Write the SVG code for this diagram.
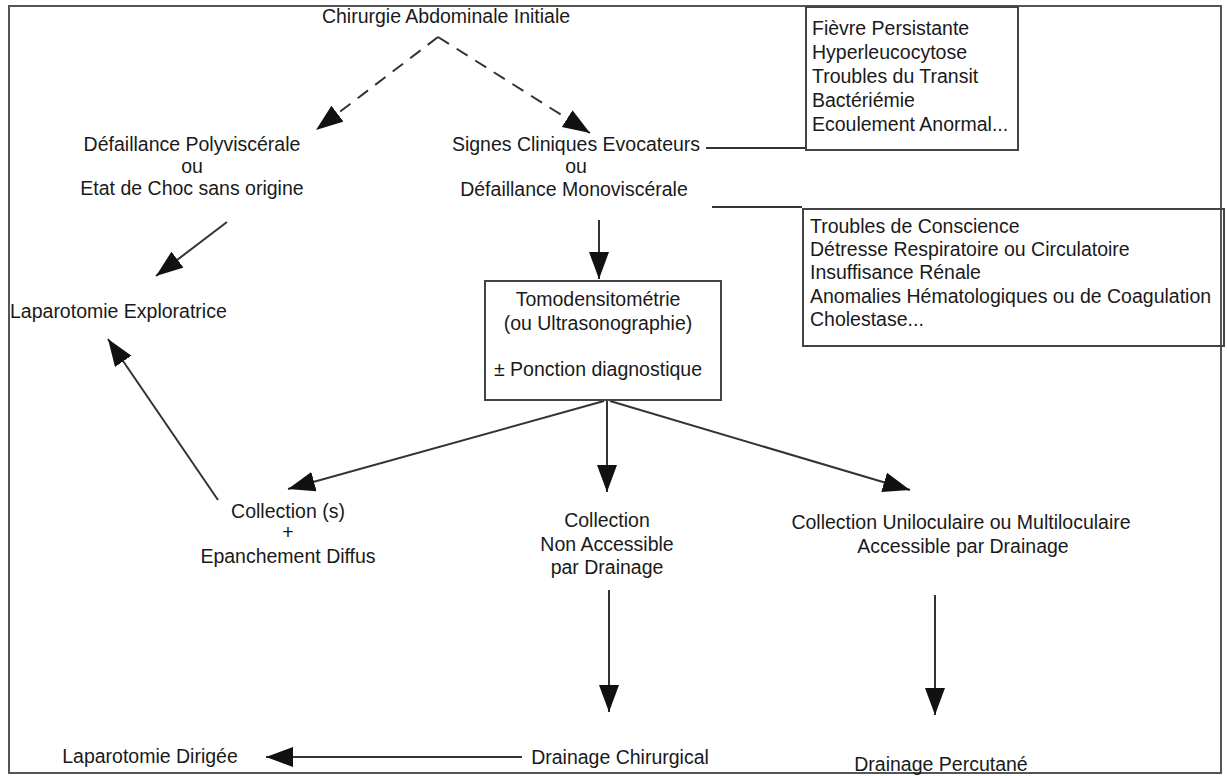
<svg xmlns="http://www.w3.org/2000/svg" width="1227" height="776" viewBox="0 0 1227 776">
<defs>
<style>
text{font-family:"Liberation Sans",Arial,sans-serif;font-size:19.5px;fill:#1a1a1a}
.c{text-anchor:middle}
.box{fill:none;stroke:#444;stroke-width:2}
.ln{fill:none;stroke:#333;stroke-width:2}
.dash{stroke-dasharray:13 9}
</style>
<marker id="ah" markerUnits="userSpaceOnUse" markerWidth="30" markerHeight="22" refX="27" refY="10" orient="auto">
<path d="M0,0 L27,10 L0,20 z" fill="#111"/>
</marker>
</defs>
<rect x="0" y="0" width="1227" height="776" fill="#fff"/>
<rect id="frame" x="9" y="6" width="1212" height="767" fill="none" stroke="#555" stroke-width="2"/>

<g id="connectors">
<path class="ln dash" d="M438,37 L316,130" marker-end="url(#ah)"/>
<path class="ln dash" d="M438,37 L590,133" marker-end="url(#ah)"/>
<path class="ln" d="M706,148 L806,148"/>
<path class="ln" d="M712,207 L802,207"/>
<path class="ln" d="M227,222 L156,276" marker-end="url(#ah)"/>
<path class="ln" d="M599,220 L599,279" marker-end="url(#ah)"/>
<path class="ln" d="M604,401 L288,489" marker-end="url(#ah)"/>
<path class="ln" d="M607,401 L607,492" marker-end="url(#ah)"/>
<path class="ln" d="M610,401 L910,490" marker-end="url(#ah)"/>
<path class="ln" d="M218,500 L108,339" marker-end="url(#ah)"/>
<path class="ln" d="M609,590 L609,712" marker-end="url(#ah)"/>
<path class="ln" d="M935,595 L935,715" marker-end="url(#ah)"/>
<path class="ln" d="M522,757 L266,757" marker-end="url(#ah)"/>
</g>

<g id="n-title"><text class="c" x="446" y="23">Chirurgie Abdominale Initiale</text></g>

<g id="n-poly">
<text class="c" x="192" y="151">Défaillance Polyviscérale</text>
<text class="c" x="192" y="173">ou</text>
<text class="c" x="192" y="195">Etat de Choc sans origine</text>
</g>

<g id="n-signes">
<text class="c" x="576" y="151">Signes Cliniques Evocateurs</text>
<text class="c" x="576" y="173">ou</text>
<text class="c" x="574" y="196">Défaillance Monoviscérale</text>
</g>

<g id="n-box1">
<rect class="box" x="806" y="7" width="212" height="143"/>
<text x="812" y="35">Fièvre Persistante</text>
<text x="812" y="59">Hyperleucocytose</text>
<text x="812" y="83">Troubles du Transit</text>
<text x="812" y="107">Bactériémie</text>
<text x="812" y="131">Ecoulement Anormal...</text>
</g>

<g id="n-box2">
<rect class="box" x="803" y="209" width="421" height="137"/>
<text x="810" y="233">Troubles de Conscience</text>
<text x="810" y="256">Détresse Respiratoire ou Circulatoire</text>
<text x="810" y="279">Insuffisance Rénale</text>
<text x="810" y="303">Anomalies Hématologiques ou de Coagulation</text>
<text x="810" y="326">Cholestase...</text>
</g>

<g id="n-lapexp"><text x="10" y="318">Laparotomie Exploratrice</text></g>

<g id="n-tdm">
<rect class="box" x="485" y="281" width="236" height="119"/>
<text class="c" x="598" y="306">Tomodensitométrie</text>
<text class="c" x="598" y="330">(ou Ultrasonographie)</text>
<text class="c" x="598" y="376">± Ponction diagnostique</text>
</g>

<g id="n-coll1">
<text class="c" x="288" y="518">Collection (s)</text>
<text class="c" x="288" y="539">+</text>
<text class="c" x="288" y="563">Epanchement Diffus</text>
</g>

<g id="n-coll2">
<text class="c" x="607" y="527">Collection</text>
<text class="c" x="607" y="551">Non Accessible</text>
<text class="c" x="607" y="574">par Drainage</text>
</g>

<g id="n-coll3">
<text class="c" x="961" y="529">Collection Uniloculaire ou Multiloculaire</text>
<text class="c" x="963" y="553">Accessible par Drainage</text>
</g>

<g id="n-lapdir"><text class="c" x="150" y="763">Laparotomie Dirigée</text></g>
<g id="n-drchir"><text class="c" x="620" y="764">Drainage Chirurgical</text></g>
<g id="n-drperc"><text class="c" x="941" y="771">Drainage Percutané</text></g>
</svg>
